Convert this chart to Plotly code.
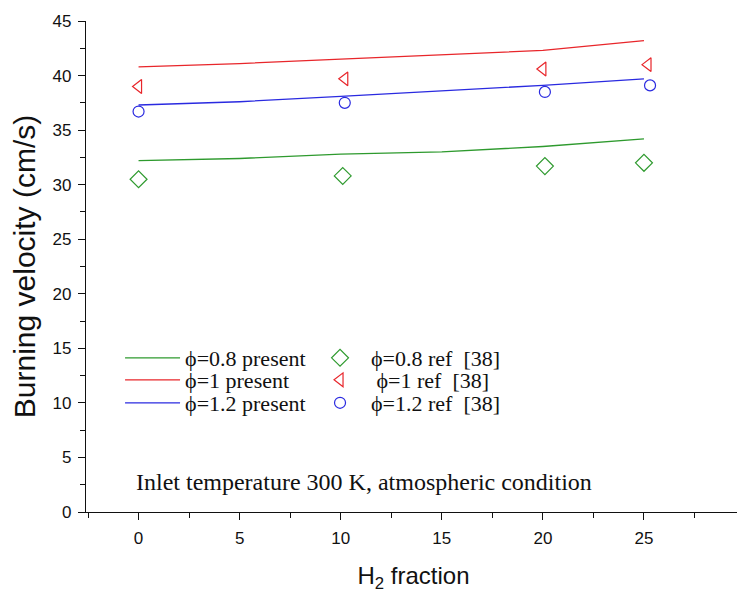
import plotly.graph_objects as go

h2_line = [0, 5, 10, 15, 20, 25]
v08_present = [32.2, 32.4, 32.8, 33.0, 33.5, 34.2]
v10_present = [40.8, 41.1, 41.5, 41.9, 42.3, 43.2]
v12_present = [37.3, 37.6, 38.1, 38.6, 39.1, 39.7]

h2_ref08 = [0, 10.1, 20.1, 25.0]
v08_ref = [30.5, 30.8, 31.7, 32.0]
h2_ref10 = [0, 10.2, 20.0, 25.2]
v10_ref = [39.0, 39.7, 40.6, 41.0]
h2_ref12 = [0, 10.2, 20.1, 25.3]
v12_ref = [36.7, 37.5, 38.5, 39.1]

GREEN = "#2e9a2e"
RED = "#e8262b"
BLUE = "#2a2ae0"
SERIF = "Liberation Serif, Times New Roman, serif"
SANS = "Liberation Sans, Arial, sans-serif"
LEG_FONT = dict(family=SERIF, size=22, color="#111")

fig = go.Figure()
fig.add_trace(go.Scatter(x=h2_line, y=v08_present, mode="lines", name="\u03d5=0.8 present",
                         line=dict(color=GREEN, width=1.3), legend="legend"))
fig.add_trace(go.Scatter(x=h2_line, y=v10_present, mode="lines", name="\u03d5=1 present",
                         line=dict(color=RED, width=1.3), legend="legend2"))
fig.add_trace(go.Scatter(x=h2_line, y=v12_present, mode="lines", name="\u03d5=1.2 present",
                         line=dict(color=BLUE, width=1.3), legend="legend3"))
fig.add_trace(go.Scatter(x=h2_ref08, y=v08_ref, mode="markers", name="\u03d5=0.8 ref  [38]",
                         marker=dict(symbol="diamond-open", size=13, color=GREEN, line=dict(width=1.2)),
                         legend="legend4"))
fig.add_trace(go.Scatter(x=h2_ref10, y=v10_ref, mode="markers", name=" \u03d5=1 ref  [38]",
                         marker=dict(symbol="triangle-left-open", size=12, color=RED, line=dict(width=1.2)),
                         legend="legend5"))
fig.add_trace(go.Scatter(x=h2_ref12, y=v12_ref, mode="markers", name="\u03d5=1.2 ref  [38]",
                         marker=dict(symbol="circle-open", size=11, color=BLUE, line=dict(width=1.2)),
                         legend="legend6"))

fig.add_annotation(text="Inlet temperature 300 K, atmospheric condition", xref="paper", yref="paper",
                   x=0.073, y=0.061, xanchor="left", yanchor="middle", showarrow=False,
                   font=dict(family=SERIF, size=24, color="#111"))

rows_y = [0.3136, 0.2688, 0.2220]


def leg(x, y, iw):
    return dict(x=x, y=y, xanchor="left", yanchor="middle", bgcolor="rgba(0,0,0,0)",
                font=LEG_FONT, itemwidth=iw)


fig.update_layout(
    width=745, height=591,
    margin=dict(l=78, r=12, t=13, b=87),
    paper_bgcolor="white", plot_bgcolor="white",
    font=dict(family=SANS, color="#111"),
    showlegend=True,
    legend=leg(0.052, rows_y[0], 55),
    legend2=leg(0.052, rows_y[1], 55),
    legend3=leg(0.052, rows_y[2], 55),
    legend4=leg(0.3405, rows_y[0], 52),
    legend5=leg(0.3405, rows_y[1], 52),
    legend6=leg(0.3405, rows_y[2], 52),
    xaxis=dict(range=[-2.6, 29.8], showgrid=False, zeroline=False, showline=True,
               linecolor="#111", linewidth=1.3, ticks="outside", ticklen=7, tickwidth=1.2,
               tickcolor="#111", tickmode="linear", tick0=0, dtick=5, ticklabelstandoff=3,
               tickfont=dict(family=SANS, size=17, color="#111"),
               minor=dict(ticks="outside", ticklen=5, tickwidth=1.2, tickcolor="#111",
                          tickmode="linear", tick0=0, dtick=2.5),
               title=dict(text="H<sub>2</sub> fraction", font=dict(family=SANS, size=24, color="#111"),
                          standoff=20), automargin=False),
    yaxis=dict(range=[0, 45], showgrid=False, zeroline=False, showline=True,
               linecolor="#111", linewidth=1.3, ticks="outside", ticklen=7, tickwidth=1.2,
               tickcolor="#111", tickmode="linear", tick0=0, dtick=5, ticklabelstandoff=3,
               tickfont=dict(family=SANS, size=17, color="#111"),
               minor=dict(ticks="outside", ticklen=5, tickwidth=1.2, tickcolor="#111", dtick=2.5),
               title=dict(text="Burning velocity (cm/s)", font=dict(family=SANS, size=30, color="#111"),
                          standoff=15), automargin=False),
)

fig.write_html("out.html")
